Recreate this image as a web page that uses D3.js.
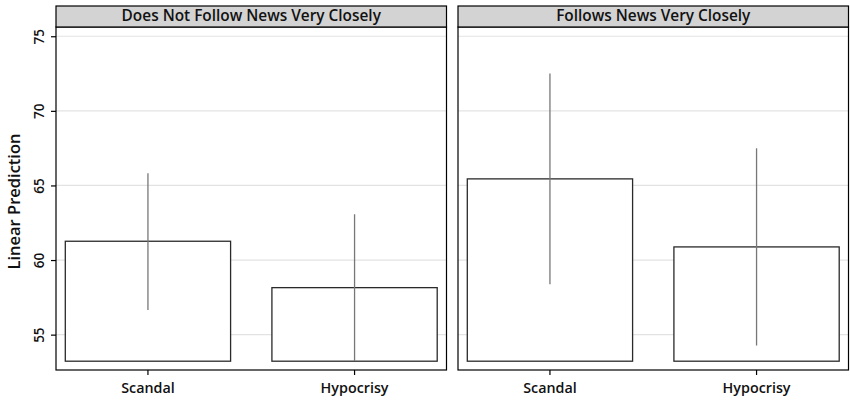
<!DOCTYPE html>
<html>
<head>
<meta charset="utf-8">
<script src="https://cdn.jsdelivr.net/npm/d3@7"></script>
<style>
  html, body { margin: 0; padding: 0; background: #fff; }
  svg { display: block; font-family: "Open Sans", "Noto Sans", sans-serif; }
</style>
</head>
<body>
<svg id="chart" width="850" height="401"></svg>
<script>
// Predicted values with 95% confidence intervals, by news attention
const panels = ["Does Not Follow News Very Closely", "Follows News Very Closely"];
const categories = ["Scandal", "Hypocrisy"];
const estimates = [[61.26, 58.15], [65.44, 60.88]];
const ciLower = [[56.65, 53.23], [58.37, 54.27]];
const ciUpper = [[65.82, 63.07], [72.51, 67.49]];
const yTicks = [55, 60, 65, 70, 75];
const yTitle = "Linear Prediction";
const barBase = 53.22;

const svg = d3.select("#chart");

const panelX = [56, 458];
const panelW = 390.5;
const stripTop = 6, stripH = 21;
const plotTop = stripTop + stripH, plotBottom = 370;

const y = d3.scaleLinear().domain([52.63, 75.62]).range([plotBottom, plotTop]);

panels.forEach((title, p) => {
  const g = svg.append("g").attr("transform", `translate(${panelX[p]},0)`);
  const x = d3.scaleBand().domain(categories).range([0, panelW])
    .paddingInner(0.2).paddingOuter(0.045);

  // gridlines
  g.selectAll("line.grid").data(yTicks).join("line")
    .attr("class", "grid")
    .attr("x1", 0).attr("x2", panelW)
    .attr("y1", d => y(d)).attr("y2", d => y(d))
    .attr("stroke", "#e3e3e3").attr("stroke-width", 1.2);

  // bars
  g.selectAll("rect.bar").data(categories).join("rect")
    .attr("class", "bar")
    .attr("x", d => x(d))
    .attr("width", x.bandwidth())
    .attr("y", (d, i) => y(estimates[p][i]))
    .attr("height", (d, i) => y(barBase) - y(estimates[p][i]))
    .attr("fill", "#fff").attr("stroke", "#2a2a2a").attr("stroke-width", 1.3);

  // confidence intervals
  g.selectAll("line.ci").data(categories).join("line")
    .attr("class", "ci")
    .attr("x1", d => x(d) + x.bandwidth() / 2)
    .attr("x2", d => x(d) + x.bandwidth() / 2)
    .attr("y1", (d, i) => y(ciLower[p][i]))
    .attr("y2", (d, i) => y(ciUpper[p][i]))
    .attr("stroke", "#777").attr("stroke-width", 1.3);

  // frame
  g.append("rect")
    .attr("x", 0).attr("y", plotTop)
    .attr("width", panelW).attr("height", plotBottom - plotTop)
    .attr("fill", "none").attr("stroke", "#000").attr("stroke-width", 1.2);

  // strip
  g.append("rect")
    .attr("x", 0).attr("y", stripTop)
    .attr("width", panelW).attr("height", stripH)
    .attr("fill", "#d3d3d3").attr("stroke", "#000").attr("stroke-width", 1.2);
  g.append("text")
    .attr("x", panelW / 2).attr("y", stripTop + 15)
    .attr("text-anchor", "middle")
    .attr("font-size", 15.4).attr("font-weight", 600).attr("fill", "#111")
    .text(title);

  // x axis
  const xAxis = g.append("g").attr("transform", `translate(0,${plotBottom})`)
    .call(d3.axisBottom(x).tickSize(5).tickPadding(8));
  xAxis.select(".domain").remove();
  xAxis.selectAll("line").attr("stroke", "#000").attr("stroke-width", 1.2);
  xAxis.selectAll("text")
    .attr("font-size", 14.3).attr("font-weight", 600).attr("fill", "#111")
    .attr("font-family", "'Open Sans', sans-serif");

  // y axis on first panel only
  if (p === 0) {
    const yAxis = g.append("g")
      .call(d3.axisLeft(y).tickValues(yTicks).tickSize(5).tickPadding(4));
    yAxis.select(".domain").remove();
    yAxis.selectAll("line").attr("stroke", "#000").attr("stroke-width", 1.2);
    yAxis.selectAll("text")
      .attr("font-size", 13.5).attr("font-weight", 600).attr("fill", "#111")
      .attr("font-family", "'Open Sans', sans-serif")
      .attr("text-anchor", "middle")
      .attr("transform", "rotate(-90)")
      .attr("x", 0).attr("dy", 0)
      .attr("y", -12);
  }
});

// y axis title
svg.append("text")
  .attr("transform", `translate(20,${(plotTop + plotBottom) / 2 + 3}) rotate(-90)`)
  .attr("text-anchor", "middle")
  .attr("font-size", 16.5).attr("font-weight", 600).attr("fill", "#111")
  .text(yTitle);
</script>
</body>
</html>
